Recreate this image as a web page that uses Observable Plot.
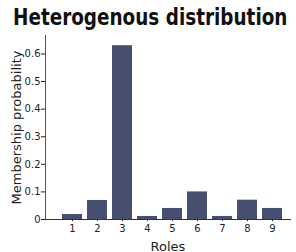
<!DOCTYPE html>
<html>
<head>
<meta charset="utf-8">
<script src="https://cdn.jsdelivr.net/npm/d3@7"></script>
<script src="https://cdn.jsdelivr.net/npm/@observablehq/plot@0.6"></script>
<style>
  html, body { margin: 0; padding: 0; background: #fff; }
  #wrap { width: 296px; height: 252px; position: relative; overflow: hidden; }
  #title { height: 30px; position: relative; }
  #title span { position: absolute; left: 13px; top: 2px; white-space: nowrap; display: inline-block;
    transform: scaleX(0.8); transform-origin: 0 0;
    font-family: "DejaVu Sans", sans-serif; font-weight: bold; font-size: 23px; line-height: 30px; color: #111; }
  svg { display: block; }
  g[aria-label="x-axis label"] text, g[aria-label="y-axis label"] text { font-size: 13px; }
</style>
</head>
<body>
<div id="wrap">
  <div id="title"><span>Heterogenous distribution</span></div>
  <div id="chart"></div>
</div>
<script>
const roles = ["1", "2", "3", "4", "5", "6", "7", "8", "9"];
const probabilities = [0.018, 0.069, 0.63, 0.011, 0.04, 0.10, 0.011, 0.07, 0.04];
const yTicks = [0, 0.1, 0.2, 0.3, 0.4, 0.5, 0.6];
const barColor = "#474f71";

const data = roles.map((r, i) => ({role: r, p: probabilities[i]}));

const chart = Plot.plot({
  width: 296,
  height: 222,
  marginTop: 5,
  marginBottom: 33,
  marginLeft: 45,
  marginRight: 6,
  style: {fontFamily: "DejaVu Sans, sans-serif", fontSize: "10px", color: "#222"},
  x: {domain: roles, padding: 0.19, insetLeft: 9, insetRight: 0},
  y: {domain: [0, 0.667]},
  marks: [
    Plot.barY(data, {x: "role", y: "p", fill: barColor}),
    Plot.frame({anchor: "left", stroke: "#555"}),
    Plot.frame({anchor: "bottom", stroke: "#333"}),
    Plot.axisY({ticks: yTicks, tickFormat: d => d === 0 ? "0" : d.toFixed(1), tickSize: 4, tickPadding: 1,
      label: "Membership probability", labelAnchor: "center", labelArrow: "none", labelOffset: 34}),
    Plot.axisX({tickSize: 2, tickPadding: 3, label: "Roles", labelAnchor: "center", labelArrow: "none", labelOffset: 31})
  ]
});
document.getElementById("chart").appendChild(chart);
</script>
</body>
</html>
